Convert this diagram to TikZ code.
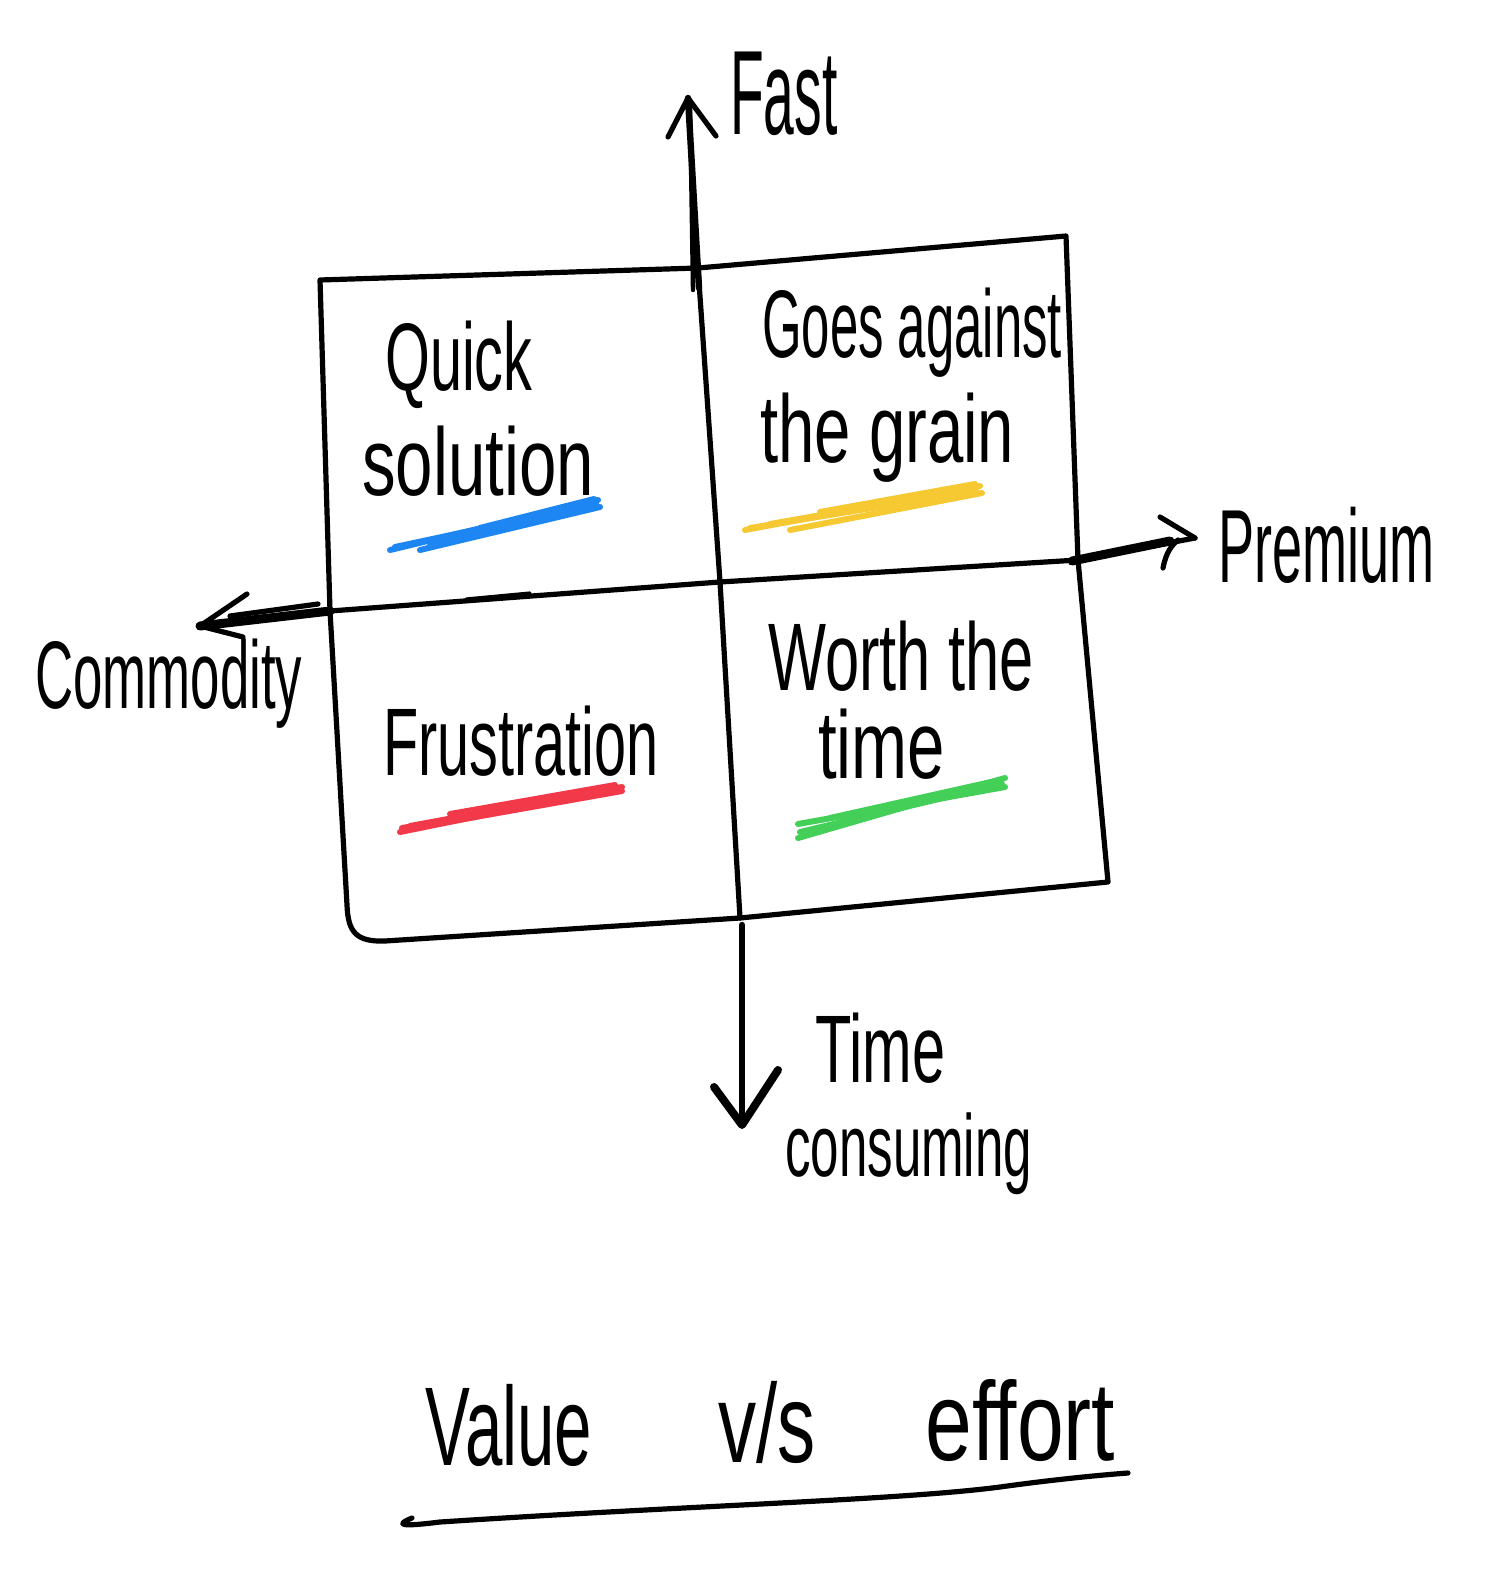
\documentclass[tikz,border=0pt]{standalone}
\usepackage{fontspec}
\setmainfont{Liberation Sans}
\definecolor{hlblue}{HTML}{1E86F2}
\definecolor{hlyellow}{HTML}{F6C832}
\definecolor{hlred}{HTML}{F2394A}
\definecolor{hlgreen}{HTML}{44CF58}
\begin{document}
\begin{tikzpicture}[x=0.5pt,y=-0.5pt,
  ink/.style={line width=2.6pt, line cap=round, line join=round},
  heavy/.style={line width=4.5pt, line cap=round, line join=round},
  lbl/.style={anchor=base west, inner sep=0pt, transform shape, font=\fontsize{48}{52}\selectfont},
  hl/.style={line width=3pt, line cap=round}]
\useasboundingbox (0,0) rectangle (1491,1578);
\fill[white] (0,0) rectangle (1491,1578);
% frame corners
\coordinate (TL) at (320,280);
\coordinate (TM) at (698,268);
\coordinate (TR) at (1066,236);
\coordinate (RM) at (1078,560);
\coordinate (BR) at (1108,882);
\coordinate (BM) at (740,918);
\coordinate (LM) at (330,611);
\coordinate (C) at (720,582);
% frame
\draw[ink] (TL) -- (TM) -- (TR) -- (RM) -- (BR) -- (BM) -- (385,941)
  .. controls (356,942) and (348,932) .. (347,905) -- (LM) -- (TL);
% dividers
\draw[ink] (TM) -- (C) -- (BM);
\draw[ink] (LM) -- (C) -- (RM);
\draw[ink, line width=1.6pt] (466,599) -- (530,593);
% up arrow (Fast)
\coordinate (UpTip) at (688,98);
\draw[ink, line width=3.2pt] (699,288) -- (UpTip);
\draw[ink, line width=2.2pt] (693,290) -- (690,100);
\draw[ink] (668,137) -- (UpTip) -- (716,136);
% down arrow (Time consuming)
\coordinate (DownTip) at (742,1125);
\draw[ink, line width=3.2pt] (742,925) -- (DownTip);
\draw[ink, line width=4pt] (714,1087) -- (DownTip) -- (778,1070);
% left arrow (Commodity)
\coordinate (LeftTip) at (200,626);
\draw[heavy] (LM) -- (LeftTip);
\draw[ink] (318,604) -- (230,616);
\draw[ink] (247,594) -- (LeftTip) -- (243,637);
% right arrow (Premium)
\coordinate (RightTip) at (1195,538);
\draw[heavy] (1072,561) -- (1170,541);
\draw[ink] (RM) -- (RightTip);
\draw[ink] (1160,517) -- (RightTip);
\draw[ink] (1163,568) .. controls (1166,552) and (1172,545) .. (1178,540);
% labels
\node[lbl, xscale=0.46, font=\fontsize{60}{64}\selectfont] (fast) at (730,135) {Fast};
\node[lbl, xscale=0.52, font=\fontsize{52}{56}\selectfont] (prem) at (1218,582) {Premium};
\node[lbl, xscale=0.55] (comm) at (35,708) {Commodity};
\node[lbl, xscale=0.6] (quick) at (385,390) {Quick};
\node[lbl, xscale=0.7] (sol) at (362,495) {solution};
\node[lbl, xscale=0.53] (goes) at (762,357) {Goes against};
\node[lbl, xscale=0.68] (grain) at (760,462) {the grain};
\node[lbl, xscale=0.6] (frus) at (383,775) {Frustration};
\node[lbl, xscale=0.64] (worth) at (768,690) {Worth the};
\node[lbl, xscale=0.7] (time) at (818,778) {time};
\node[lbl, xscale=0.62] (tc1) at (815,1082) {Time};
\node[lbl, xscale=0.58, font=\fontsize{44}{48}\selectfont] (tc2) at (785,1176) {consuming};
\node[lbl, xscale=0.6, font=\fontsize{56}{60}\selectfont] (val) at (425,1465) {Value};
\node[lbl, xscale=0.68, font=\fontsize{56}{60}\selectfont] (vs) at (718,1462) {v/s};
\node[lbl, xscale=0.75, font=\fontsize{56}{60}\selectfont] (eff) at (925,1460) {effort};
% title underline
\coordinate (UL) at (412,1518);
\coordinate (UR) at (1128,1473);
\draw[ink] (UL) .. controls (395,1525) and (400,1527) .. (440,1522)
  .. controls (700,1505) and (900,1500) .. (1000,1487)
  .. controls (1050,1480) and (1100,1475) .. (UR);
% highlights
\draw[hl, hlblue] (390,550) -- (598,500);
\draw[hl, hlblue] (395,547) -- (596,504);
\draw[hl, hlblue] (420,550) -- (600,507);
\draw[hl, hlblue] (430,545) -- (590,508);
\draw[hl, hlblue] (480,528) -- (594,499);
\draw[hl, hlyellow] (745,530) -- (980,486);
\draw[hl, hlyellow] (750,528) -- (976,491);
\draw[hl, hlyellow] (790,530) -- (982,493);
\draw[hl, hlyellow] (770,524) -- (970,489);
\draw[hl, hlyellow] (820,512) -- (975,484);
\draw[hl, hlred] (400,832) -- (622,787);
\draw[hl, hlred] (402,828) -- (618,791);
\draw[hl, hlred] (430,825) -- (622,791);
\draw[hl, hlred] (410,826) -- (610,789);
\draw[hl, hlred] (450,814) -- (615,785);
\draw[hl, hlgreen] (798,838) -- (1005,778);
\draw[hl, hlgreen] (800,832) -- (1002,784);
\draw[hl, hlgreen] (798,824) -- (1005,787);
\draw[hl, hlgreen] (815,830) -- (995,782);
\draw[hl, hlgreen] (830,818) -- (1000,780);
\end{tikzpicture}
\end{document}
